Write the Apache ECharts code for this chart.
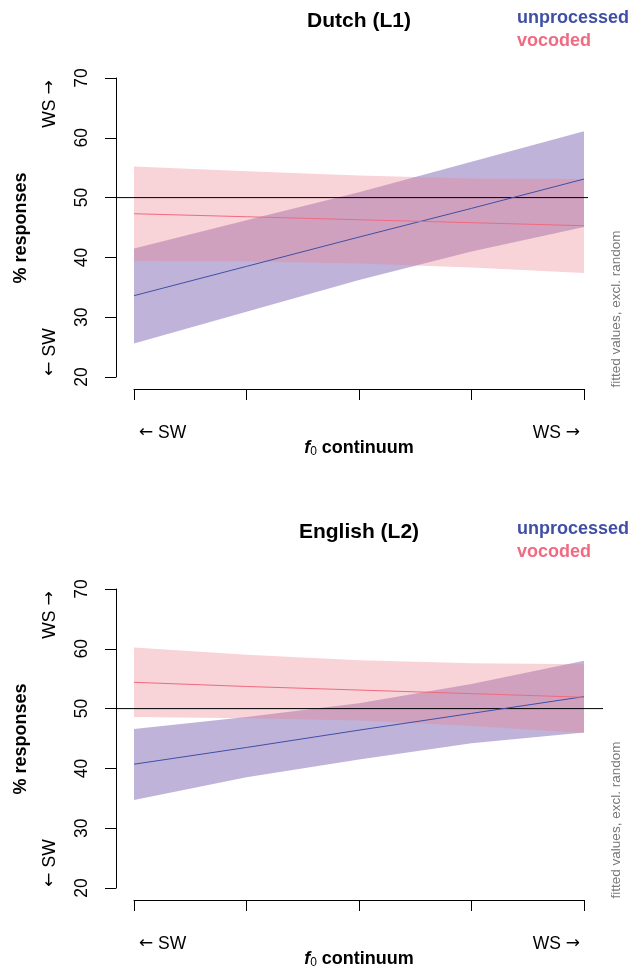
<!DOCTYPE html>
<html><head><meta charset="utf-8">
<script src="https://cdn.jsdelivr.net/npm/echarts@6/dist/echarts.min.js"></script>
<style>html,body{margin:0;padding:0;background:#fff}#c{width:633px;height:966px}</style>
</head><body><div id="c"></div>
<script>
// ---- data ----
const xSteps = [1, 2, 3, 4, 5];
const yTicks = [20, 30, 40, 50, 60, 70];
const chance = 50;

const nlUnprocFit = [33.6, 38.5, 43.4, 48.2, 53.1];
const nlUnprocHi  = [41.5, 46.2, 50.9, 56.0, 61.1];
const nlUnprocLo  = [25.6, 30.9, 36.2, 41.0, 45.1];
const nlVocFit    = [47.3, 46.8, 46.3, 45.8, 45.3];
const nlVocHi     = [55.2, 54.4, 53.7, 53.2, 53.1];
const nlVocLo     = [39.4, 39.3, 39.0, 38.3, 37.4];

const enUnprocFit = [40.7, 43.5, 46.4, 49.2, 52.0];
const enUnprocHi  = [46.6, 48.6, 50.9, 54.1, 58.0];
const enUnprocLo  = [34.7, 38.5, 41.5, 44.2, 46.0];
const enVocFit    = [54.4, 53.7, 53.1, 52.5, 51.9];
const enVocHi     = [60.2, 59.0, 58.1, 57.6, 57.4];
const enVocLo     = [48.6, 48.4, 48.0, 47.1, 45.9];

const panelTitles = ['Dutch (L1)', 'English (L2)'];
const legendNames = ['unprocessed', 'vocoded'];
const ARROW_L = '\u2190', ARROW_R = '\u2192';
const catSW = 'SW', catWS = 'WS';
const yTitle = '% responses';
const sideNote = 'fitted values, excl. random';

// ---- styling ----
const FONT = '"Liberation Sans", Arial, Helvetica, sans-serif';
const AFONT = '"DejaVu Sans", sans-serif';
const BLUE = '#3f4fa6';
const PINK = '#f06a80';
const BLUE_BAND = 'rgba(98,65,160,0.40)';
const PINK_BAND = 'rgba(235,129,144,0.35)';
const richArrows = {
  t: { fontFamily: FONT, fontSize: 17.5, color: '#000' },
  a: { fontFamily: AFONT, fontSize: 17, color: '#000' },
  al: { fontFamily: AFONT, fontSize: 17, color: '#000', padding: [0, 0, 0, 5] },
  ar: { fontFamily: AFONT, fontSize: 17, color: '#000', padding: [0, 4, 0, 0] }
};

const panels = [
  { dy: 0,   ablineW: 472, fit: [nlUnprocFit, nlVocFit], hi: [nlUnprocHi, nlVocHi], lo: [nlUnprocLo, nlVocLo] },
  { dy: 511, ablineW: 487, fit: [enUnprocFit, enVocFit], hi: [enUnprocHi, enVocHi], lo: [enUnprocLo, enVocLo] }
];

const grid = [], xAxis = [], yAxis = [], series = [], graphic = [];

function band(ai, hi, lo, color, z) {
  return {
    type: 'custom', xAxisIndex: ai, yAxisIndex: ai, data: [[xSteps[0], hi[0]]], silent: true, z: z,
    renderItem: function (params, api) {
      const pts = [];
      for (let i = 0; i < xSteps.length; i++) pts.push(api.coord([xSteps[i], hi[i]]));
      for (let i = xSteps.length - 1; i >= 0; i--) pts.push(api.coord([xSteps[i], lo[i]]));
      return { type: 'polygon', shape: { points: pts }, style: { fill: color } };
    }
  };
}

panels.forEach(function (p, k) {
  const top = 78 + p.dy;
  const gi = grid.length;
  grid.push({ left: 134, width: 450, top: top, height: 299 });
  grid.push({ left: 116, width: p.ablineW, top: top, height: 299 });

  xAxis.push({
    type: 'value', gridIndex: gi, min: xSteps[0], max: xSteps[xSteps.length - 1], interval: 1,
    position: 'bottom', offset: 12,
    axisLine: { show: true, lineStyle: { color: '#000', width: 1 } },
    axisTick: { show: true, length: 11, lineStyle: { color: '#000', width: 1 } },
    splitLine: { show: false },
    axisLabel: {
      margin: 35, fontFamily: FONT, fontSize: 17.5, color: '#000',
      alignMinLabel: 'left', alignMaxLabel: 'right', showMinLabel: true, showMaxLabel: true,
      formatter: function (v) {
        if (v === xSteps[0]) return '{al|' + ARROW_L + '}{t| ' + catSW + '}';
        if (v === xSteps[xSteps.length - 1]) return '{t|' + catWS + ' }{ar|' + ARROW_R + '}';
        return '';
      },
      rich: richArrows
    }
  });
  xAxis.push({ type: 'value', gridIndex: gi + 1, min: 0, max: 1, show: false });

  yAxis.push({
    type: 'value', gridIndex: gi, min: yTicks[0], max: yTicks[yTicks.length - 1], interval: 10,
    position: 'left', offset: 18,
    axisLine: { show: true, lineStyle: { color: '#000', width: 1 } },
    axisTick: { show: true, length: 11, lineStyle: { color: '#000', width: 1 } },
    splitLine: { show: false },
    axisLabel: { rotate: 90, margin: 25, fontFamily: FONT, fontSize: 17.5, color: '#000' }
  });
  yAxis.push({ type: 'value', gridIndex: gi + 1, min: yTicks[0], max: yTicks[yTicks.length - 1], show: false });

  series.push(band(gi, p.hi[0], p.lo[0], BLUE_BAND, 1));
  series.push(band(gi, p.hi[1], p.lo[1], PINK_BAND, 2));
  series.push({
    type: 'line', xAxisIndex: gi + 1, yAxisIndex: gi + 1, data: [[0, chance], [1, chance]],
    showSymbol: false, silent: true, z: 3, lineStyle: { color: '#000', width: 1 }
  });
  [BLUE, PINK].forEach(function (c, j) {
    series.push({
      type: 'line', xAxisIndex: gi, yAxisIndex: gi, z: 4, silent: true,
      data: xSteps.map(function (x, i) { return [x, p.fit[j][i]]; }),
      showSymbol: false, lineStyle: { color: c, width: 1 }
    });
  });

  const dy = p.dy;
  function txt(x, y, text, opts) {
    graphic.push(Object.assign({ type: 'text', x: x, y: y, silent: true,
      style: Object.assign({ text: text, fontFamily: FONT, fontSize: 17.5, fill: '#000',
        align: 'center', verticalAlign: 'middle', textAlign: 'center', textVerticalAlign: 'middle' }, opts.style || {}) },
      opts.el || {}));
  }
  txt(359, 21 + dy, panelTitles[k], { style: { fontSize: 21, fontWeight: 'bold' } });
  txt(517, 18 + dy, legendNames[0], { style: { fontSize: 18, fontWeight: 'bold', fill: BLUE, align: 'left', textAlign: 'left' } });
  txt(517, 41 + dy, legendNames[1], { style: { fontSize: 18, fontWeight: 'bold', fill: PINK, align: 'left', textAlign: 'left' } });
  txt(50, 104 + dy, '{t|' + catWS + ' }{a|' + ARROW_R + '}', { el: { rotation: Math.PI / 2 }, style: { rich: richArrows } });
  txt(50, 352 + dy, '{a|' + ARROW_L + '}{t| ' + catSW + '}', { el: { rotation: Math.PI / 2 }, style: { rich: richArrows } });
  txt(21, 228 + dy, yTitle, { el: { rotation: Math.PI / 2 }, style: { fontSize: 18, fontWeight: 'bold' } });
  txt(616, 309 + dy, sideNote, { el: { rotation: Math.PI / 2 }, style: { fontSize: 13.5, fill: '#777' } });
  txt(359, 448 + dy, '{i|f}{s|0}{b| continuum}', { style: {
    rich: {
      i: { fontFamily: FONT, fontSize: 18, fontWeight: 'bold', fontStyle: 'italic' },
      s: { fontFamily: FONT, fontSize: 12, padding: [8, 0, 0, 0] },
      b: { fontFamily: FONT, fontSize: 18, fontWeight: 'bold' }
    } } });
});

const chart = echarts.init(document.getElementById('c'), null, { renderer: 'canvas' });
chart.setOption({
  animation: false,
  backgroundColor: '#fff',
  grid: grid, xAxis: xAxis, yAxis: yAxis, series: series, graphic: graphic
});
</script>
</body></html>
